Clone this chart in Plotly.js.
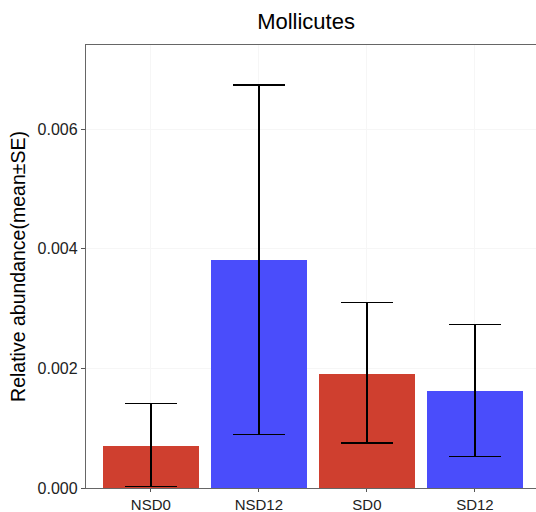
<!DOCTYPE html>
<html>
<head>
<meta charset="utf-8">
<script src="https://cdn.plot.ly/plotly-3.0.1.min.js"></script>
<style>html,body{margin:0;padding:0;background:#fff;}#chart{width:536px;height:512px;}</style>
</head>
<body>
<div id="chart"></div>
<script>
var categories = ["NSD0", "NSD12", "SD0", "SD12"];
var means = [0.00071, 0.00382, 0.00191, 0.00162];
var upper = [0.00141, 0.00674, 0.00310, 0.00273];
var lower = [0.00003, 0.00089, 0.00075, 0.00053];
var colors = ["#CF3F2F", "#4A4DFB", "#CF3F2F", "#4A4DFB"];
var yTicks = [0, 0.002, 0.004, 0.006];
var yTickText = ["0.000", "0.002", "0.004", "0.006"];

var errPlus = means.map(function(m, i){ return upper[i] - m; });
var errMinus = means.map(function(m, i){ return m - lower[i]; });

var trace = {
  type: "bar",
  x: categories.map(function(c, i){ return i; }),
  y: means,
  width: 0.89,
  marker: {color: colors, line: {width: 0}},
  error_y: {type: "data", symmetric: false, array: errPlus, arrayminus: errMinus,
            color: "#000", thickness: 1.4, width: 26},
  hoverinfo: "none"
};

var layout = {
  width: 536, height: 512,
  margin: {l: 86, r: 0, t: 44.5, b: 23.5},
  paper_bgcolor: "#fff", plot_bgcolor: "#fff",
  font: {family: "Liberation Sans, Arial, sans-serif", color: "#333"},
  title: {text: "Mollicutes", x: 0.571, xanchor: "center", y: 0.943, yanchor: "bottom",
          font: {size: 22, color: "#000"}},
  showlegend: false,
  bargap: 0,
  xaxis: {
    range: [-0.6, 3.565], tickmode: "array", tickvals: [0,1,2,3], ticktext: categories,
    showgrid: true, gridcolor: "#f6f6f6", zeroline: false,
    showline: true, linecolor: "#666", linewidth: 1.2, mirror: true,
    ticks: "outside", ticklen: 3, tickcolor: "#555",
    tickfont: {size: 15, color: "#222"}
  },
  yaxis: {
    range: [0, 0.00741], tickmode: "array", tickvals: yTicks, ticktext: yTickText,
    showgrid: true, gridcolor: "#f6f6f6", zeroline: false,
    showline: true, linecolor: "#666", linewidth: 1.2, mirror: false,
    ticks: "outside", ticklen: 4, tickcolor: "#555",
    tickfont: {size: 16, color: "#222"},
    title: {text: "Relative abundance(mean±SE)", font: {size: 19.5, color: "#000"}, standoff: 6}
  }
};

Plotly.newPlot("chart", [trace], layout, {displayModeBar: false, staticPlot: true});
</script>
</body>
</html>
